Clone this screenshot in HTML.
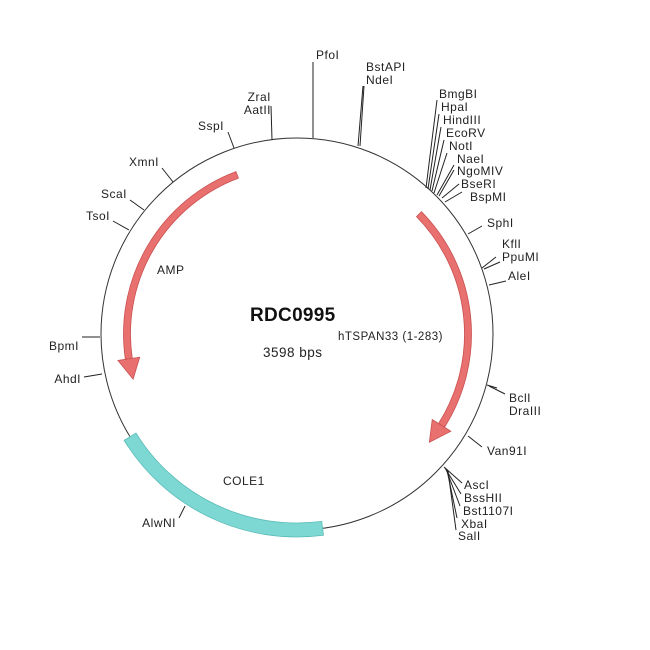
<!DOCTYPE html>
<html><head><meta charset="utf-8"><style>
html,body{margin:0;padding:0;background:#fff;}
svg{display:block;font-family:"Liberation Sans",Arial,sans-serif;}
text{font-size:12px;fill:#222;letter-spacing:0.5px;}
</style></head><body>
<svg id="s" width="650" height="650" viewBox="0 0 650 650">
<circle cx="297" cy="334" r="196" fill="none" stroke="#333" stroke-width="1"/>
<g id="arcs"></g>
<g stroke="#222" stroke-width="1" fill="none">
<line x1="313" y1="138" x2="313" y2="62"/>
<line x1="358" y1="146" x2="363" y2="86"/>
<line x1="360" y1="146" x2="364" y2="86"/>
<line x1="272" y1="140" x2="271" y2="106"/>
<line x1="234" y1="148" x2="228" y2="132"/>
<line x1="173" y1="182" x2="162" y2="168"/>
<line x1="144" y1="210" x2="130" y2="200"/>
<line x1="129" y1="230" x2="113" y2="221"/>
<line x1="100" y1="337" x2="82" y2="337"/>
<line x1="102" y1="374" x2="84" y2="377"/>
<line x1="185" y1="506" x2="179" y2="518"/>
<line x1="426" y1="188" x2="437" y2="100"/>
<line x1="428" y1="189" x2="439" y2="114"/>
<line x1="430" y1="190" x2="441" y2="127"/>
<line x1="432" y1="191" x2="444" y2="140"/>
<line x1="434" y1="193" x2="447" y2="153"/>
<line x1="437" y1="195" x2="454" y2="165"/>
<line x1="439" y1="196" x2="454" y2="170"/>
<line x1="442" y1="198" x2="459" y2="184"/>
<line x1="445" y1="202" x2="462" y2="192"/>
<line x1="468" y1="234" x2="482" y2="226"/>
<line x1="482" y1="268" x2="496" y2="257"/>
<line x1="484" y1="269" x2="500" y2="262"/>
<line x1="489" y1="285" x2="506" y2="281"/>
<line x1="487" y1="385" x2="497" y2="388"/>
<line x1="489" y1="386" x2="505" y2="394"/>
<line x1="468" y1="436" x2="482" y2="447"/>
<line x1="444" y1="467" x2="462" y2="483"/>
<line x1="445" y1="468" x2="461" y2="494"/>
<line x1="446" y1="469" x2="460" y2="506"/>
<line x1="447" y1="470" x2="457" y2="518"/>
<line x1="448" y1="471" x2="456" y2="530"/>
</g>
<text x="316" y="59">PfoI</text>
<text x="366" y="71">BstAPI</text>
<text x="366" y="84">NdeI</text>
<text x="271" y="101" text-anchor="end">ZraI</text>
<text x="271" y="114" text-anchor="end">AatII</text>
<text x="224" y="130" text-anchor="end">SspI</text>
<text x="159" y="166" text-anchor="end">XmnI</text>
<text x="127" y="198" text-anchor="end">ScaI</text>
<text x="110" y="220" text-anchor="end">TsoI</text>
<text x="79" y="350" text-anchor="end">BpmI</text>
<text x="81" y="383" text-anchor="end">AhdI</text>
<text x="176" y="527" text-anchor="end">AlwNI</text>
<text x="439" y="98">BmgBI</text>
<text x="441" y="111">HpaI</text>
<text x="443" y="124">HindIII</text>
<text x="446" y="137">EcoRV</text>
<text x="449" y="150">NotI</text>
<text x="457" y="163">NaeI</text>
<text x="457" y="175">NgoMIV</text>
<text x="461" y="188">BseRI</text>
<text x="470" y="201">BspMI</text>
<text x="487" y="227">SphI</text>
<text x="502" y="248">KflI</text>
<text x="502" y="261">PpuMI</text>
<text x="508" y="280">AleI</text>
<text x="509" y="402">BclI</text>
<text x="509" y="415">DraIII</text>
<text x="487" y="455">Van91I</text>
<text x="464" y="489">AscI</text>
<text x="464" y="502">BssHII</text>
<text x="463" y="515">Bst1107I</text>
<text x="461" y="528">XbaI</text>
<text x="458" y="540">SalI</text>
<text x="157" y="274">AMP</text>
<text x="223" y="485">COLE1</text>
<text x="338" y="340" style="font-size:11.5px">hTSPAN33 (1-283)</text>
<text x="250" y="321" style="font-size:19px;font-weight:bold;fill:#111;letter-spacing:0.3px">RDC0995</text>
<text x="263" y="357" style="font-size:13.5px">3598 bps</text>
</svg>
<script>
var cx=297,cy=334,g=document.getElementById('arcs');
function P(r,a){a=a*Math.PI/180;return [cx+r*Math.cos(a),cy+r*Math.sin(a)];}
function band(r1,r2,a1,a2){
 var p1=P(r2,a1),p2=P(r2,a2),p3=P(r1,a2),p4=P(r1,a1),L=(a2-a1)>180?1:0;
 return 'M'+p1+' A'+r2+' '+r2+' 0 '+L+' 1 '+p2+' L'+p3+' A'+r1+' '+r1+' 0 '+L+' 0 '+p4+' Z';}
function arrow(r,w,hw,a1,a2,cw,hl){
 var d,ri=r-w/2,ro=r+w/2;
 if(cw){var b=a2-hl;d=band(ri,ro,a1,b);
  var t=P(r,a2),h1=P(r-hw,b),h2=P(r+hw,b);
  d+=' M'+h1+' L'+t+' L'+h2+' Z';}
 else{var b=a2+hl;d=band(ri,ro,b,a1);
  var t=P(r,a2),h1=P(r-hw,b),h2=P(r+hw,b);
  d+=' M'+h1+' L'+t+' L'+h2+' Z';}
 var e=document.createElementNS('http://www.w3.org/2000/svg','path');
 e.setAttribute('d',d);e.setAttribute('fill','#e8706f');e.setAttribute('stroke','#c95050');e.setAttribute('stroke-width','0.8');
 g.appendChild(e);}
arrow(170,7,11,249.4,164.6,false,7);
arrow(171,7,11,-44.5,39.3,true,7);
var e=document.createElementNS('http://www.w3.org/2000/svg','path');
e.setAttribute('d',band(189,203,82.5,148.4));e.setAttribute('fill','#7dd8d4');e.setAttribute('stroke','#5bbbb7');e.setAttribute('stroke-width','0.8');
g.appendChild(e);
</script>
</body></html>
